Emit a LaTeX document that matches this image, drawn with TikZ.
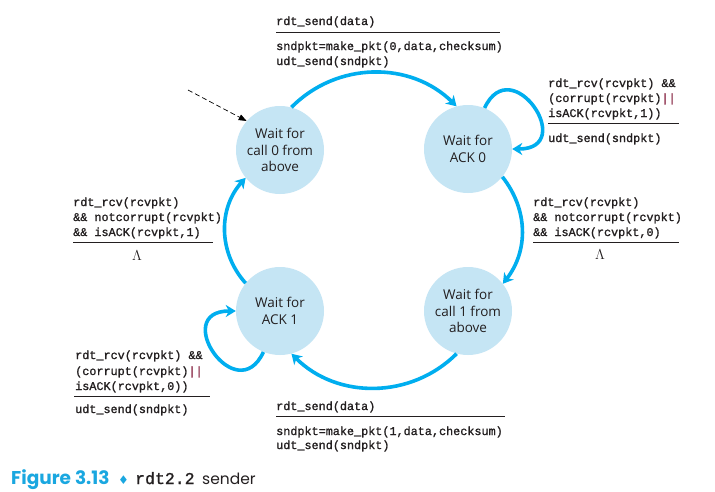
\documentclass[tikz,border=0pt]{standalone}
\usepackage{fontspec}
\setmainfont{Open Sans}
\newfontfamily\codefont[FakeBold=1.2]{Liberation Mono}
\newfontfamily\capfont{Poppins}
\newfontfamily\symfont{DejaVu Sans}
\usetikzlibrary{arrows.meta}
\definecolor{arrowblue}{HTML}{00AEEF}
\definecolor{statefill}{HTML}{C5E5F4}
\definecolor{inkc}{HTML}{231F20}
\definecolor{barred}{HTML}{8A2846}
\definecolor{capblue}{HTML}{1AA7E0}
\newcommand{\orbar}{\textcolor{barred}{||}}
\begin{document}
\begin{tikzpicture}[x=1pt,y=1pt,
  state/.style={circle, fill=statefill, minimum size=88pt, inner sep=0pt, align=center,
    font=\fontsize{13.5}{16.5}\selectfont, text=inkc},
  trans/.style={draw=arrowblue, line width=3.6pt,
    -{Stealth[length=10pt,width=12pt,inset=3pt,fill=arrowblue]}},
  initarrow/.style={draw=black, line width=0.7pt, dash pattern=on 5pt off 3pt,
    -{Triangle[length=8pt,width=6pt]}},
  code/.style={font=\codefont\fontsize{11.8}{15}\selectfont, anchor=base west, inner sep=0pt, text=inkc},
  rulel/.style={draw=inkc, line width=0.8pt},
  lam/.style={font=\fontsize{14.5}{16}\selectfont, anchor=base, inner sep=0pt, text=inkc}]
\useasboundingbox (0,0) rectangle (715,-491);
\fill[white] (0,0) rectangle (715,-491);

% states
\node[state] (c1) at (280,-150) {Wait for\\call 0 from\\above};
\node[state] (c2) at (468,-149) {Wait for\\ACK 0};
\node[state] (c3) at (280,-311) {Wait for\\ACK 1};
\node[state] (c4) at (468,-311) {Wait for\\call 1 from\\above};

% transitions
\draw[trans] (c1.75) to[bend left=45] (c2.105);
\draw[trans] (c2.-39) to[bend left=38] (c4.38);
\draw[trans] (c4.-105) to[bend left=45] (c3.-75);
\draw[trans] (c3.141) to[bend left=42] (c1.219);
\draw[trans] (c2.68) .. controls +(65:64) and +(0:66) .. (c2.0);
\draw[trans] (c3.248) .. controls +(245:64) and +(180:66) .. (c3.180);

% initial
\coordinate (init) at (188,-90);
\draw[initarrow] (init) -- (c1.139);

% top label
\node[code] (ta) at (276,-25) {rdt\_send(data)};
\draw[rulel] (276,-32) -- (500,-32);
\node[code] (tb) at (276,-50) {sndpkt=make\_pkt(0,data,checksum)};
\node[code] (tc) at (276,-65) {udt\_send(sndpkt)};

% right self-loop label
\node[code] (ra) at (548,-87) {rdt\_rcv(rcvpkt) \&\&};
\node[code] (rb) at (548,-102) {(corrupt(rcvpkt)\orbar};
\node[code] (rc) at (548,-117) {isACK(rcvpkt,1))};
\draw[rulel] (548,-123) -- (679,-123);
\node[code] (rd) at (548,-142) {udt\_send(sndpkt)};

% right transition label
\node[code] (sa) at (533,-206) {rdt\_rcv(rcvpkt)};
\node[code] (sb) at (533,-221) {\&\& notcorrupt(rcvpkt)};
\node[code] (sc) at (533,-236) {\&\& isACK(rcvpkt,0)};
\draw[rulel] (533,-242) -- (679,-242);
\node[lam] (sl) at (600,-259) {$\Lambda$};

% left transition label
\node[code] (la) at (73,-206) {rdt\_rcv(rcvpkt)};
\node[code] (lb) at (73,-221) {\&\& notcorrupt(rcvpkt)};
\node[code] (lc) at (73,-236) {\&\& isACK(rcvpkt,1)};
\draw[rulel] (73,-242) -- (213,-242);
\node[lam] (ll) at (137,-260) {$\Lambda$};

% bottom-left self-loop label
\node[code] (ba) at (75,-359) {rdt\_rcv(rcvpkt) \&\&};
\node[code] (bb) at (75,-375) {(corrupt(rcvpkt)\orbar};
\node[code] (bc) at (75,-390) {isACK(rcvpkt,0))};
\draw[rulel] (74,-396) -- (210,-396);
\node[code] (bd) at (75,-413) {udt\_send(sndpkt)};

% bottom label
\node[code] (da) at (276,-410) {rdt\_send(data)};
\draw[rulel] (276,-416) -- (505,-416);
\node[code] (db) at (276,-435) {sndpkt=make\_pkt(1,data,checksum)};
\node[code] (dc) at (276,-449) {udt\_send(sndpkt)};

% caption
\node[anchor=base west, inner sep=0pt, text=capblue, font=\capfont\bfseries\fontsize{18.5}{21}\selectfont] (fig) at (11,-484) {Figure 3.13};
\node[anchor=base west, inner sep=0pt, text=capblue, font=\symfont\fontsize{12}{14}\selectfont] (dia) at (118,-484) {♦};
\node[anchor=base west, inner sep=0pt, text=inkc, font=\codefont\fontsize{16.5}{18}\selectfont] (rdtn) at (135,-484) {rdt2.2};
\node[anchor=base west, inner sep=0pt, text=inkc, font=\capfont\fontsize{15.5}{18}\selectfont] (snd) at (202,-484) {sender};
\end{tikzpicture}
\end{document}
